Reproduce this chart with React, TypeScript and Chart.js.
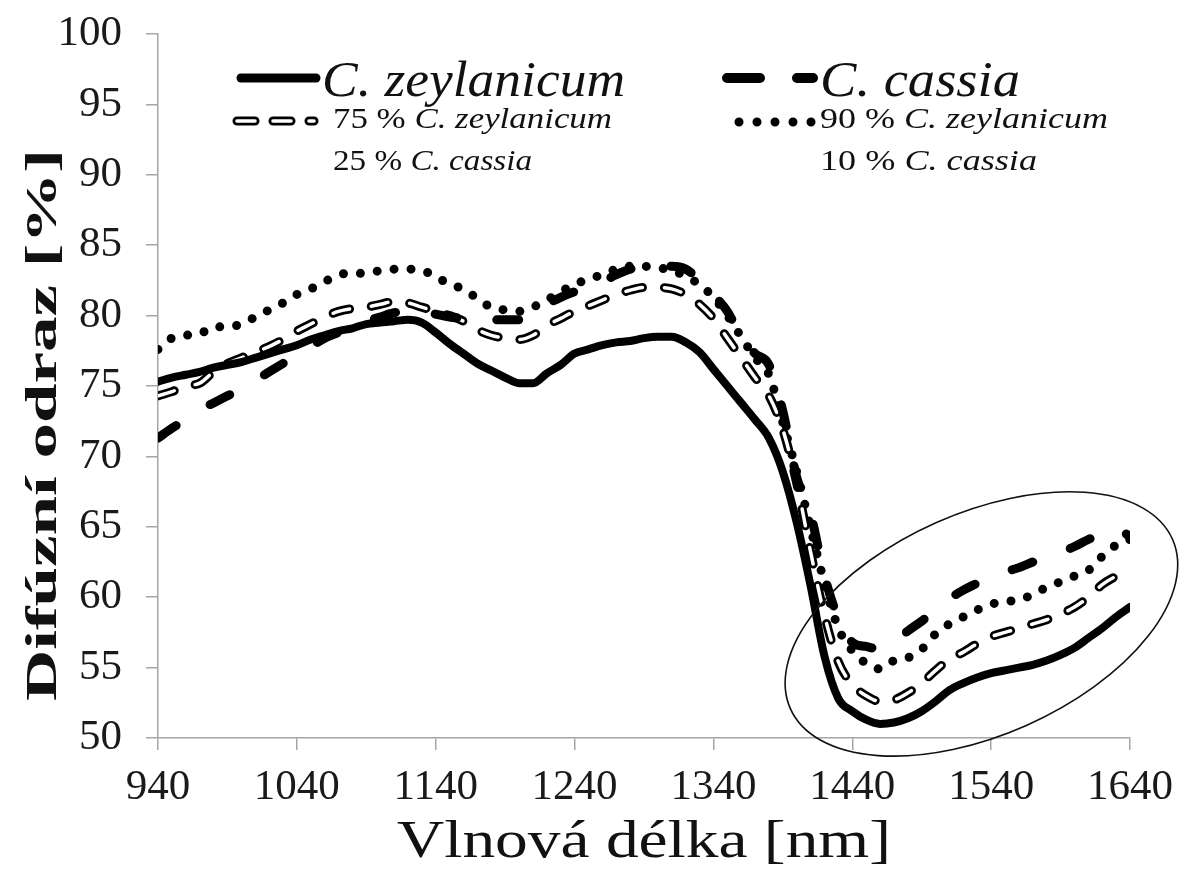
import React, { useEffect, useRef } from "react";
import { Chart, registerables } from "chart.js";

Chart.register(...registerables);

// ---------- data ----------
const wavelengths = [
  940, 950, 960, 970, 980, 990, 1000, 1010, 1020, 1030,
  1040, 1050, 1060, 1070, 1080, 1090, 1100, 1110, 1120, 1130,
  1140, 1150, 1160, 1170, 1180, 1190, 1200, 1210, 1220, 1230,
  1240, 1250, 1260, 1270, 1280, 1290, 1300, 1310, 1320, 1330,
  1340, 1350, 1360, 1370, 1380, 1390, 1400, 1410, 1420, 1430,
  1440, 1450, 1460, 1470, 1480, 1490, 1500, 1510, 1520, 1530,
  1540, 1550, 1560, 1570, 1580, 1590, 1600, 1610, 1620, 1630, 1640,
];

const zeylanicum = [
  75.3, 75.6, 75.8, 76.0, 76.3, 76.5, 76.7, 77.0, 77.3, 77.6,
  77.9, 78.3, 78.6, 78.9, 79.1, 79.4, 79.5, 79.6, 79.7, 79.5,
  78.8, 78.0, 77.3, 76.6, 76.1, 75.6, 75.2, 75.2, 75.9, 76.5,
  77.3, 77.6, 77.9, 78.1, 78.2, 78.4, 78.5, 78.5, 78.1, 77.4,
  76.2, 75.0, 73.8, 72.6, 71.3, 68.9, 65.3, 60.8, 55.8, 52.8,
  51.9, 51.3, 51.0, 51.1, 51.4, 51.9, 52.6, 53.4, 53.9, 54.3,
  54.6, 54.8, 55.0, 55.2, 55.5, 55.9, 56.4, 57.1, 57.8, 58.6, 59.3,
];

const cassia = [
  71.3, 72.0, 72.6, 73.3, 73.8, 74.3, 74.8, 75.4, 76.0, 76.6,
  77.2, 77.8, 78.4, 78.8, 79.2, 79.6, 79.9, 80.2, 80.3, 80.3,
  80.1, 79.9, 79.8, 79.7, 79.7, 79.7, 79.7, 80.1, 80.8, 81.3,
  81.7, 82.0, 82.4, 82.9, 83.3, 83.5, 83.5, 83.5, 83.3, 82.5,
  81.5, 80.3, 78.5, 77.3, 76.5, 73.2, 68.5, 65.9, 61.5, 58.5,
  56.8, 56.5, 56.3, 56.8, 57.6, 58.3, 59.1, 59.9, 60.5, 61.0,
  61.5, 61.8, 62.1, 62.5, 62.9, 63.2, 63.6, 64.1, 64.5, 64.9, 64.3,
];

const mix75 = [
  74.3, 74.6, 75.0, 75.2, 76.0, 76.6, 77.0, 77.4, 77.8, 78.3,
  78.9, 79.4, 79.9, 80.3, 80.5, 80.6, 80.8, 81.0, 80.9, 80.6,
  80.3, 80.0, 79.6, 79.0, 78.6, 78.4, 78.3, 78.6, 79.3, 79.8,
  80.3, 80.7, 81.1, 81.5, 81.8, 82.0, 82.0, 81.9, 81.5, 80.8,
  79.8, 78.4, 77.0, 75.6, 74.3, 71.9, 68.1, 63.2, 58.7, 55.4,
  53.8, 53.0, 52.6, 52.7, 53.2, 53.9, 54.8, 55.6, 56.1, 56.7,
  57.2, 57.5, 57.8, 58.1, 58.4, 58.8, 59.3, 60.0, 60.9, 61.5, 62.0,
];

const mix90 = [
  77.6, 78.4, 78.6, 78.7, 79.2, 79.2, 79.4, 79.9, 80.4, 80.9,
  81.5, 81.9, 82.4, 82.9, 83.0, 83.0, 83.2, 83.3, 83.3, 83.2,
  82.8, 82.2, 81.9, 81.2, 80.6, 80.4, 80.3, 80.6, 81.1, 81.7,
  82.2, 82.6, 82.9, 83.3, 83.5, 83.5, 83.4, 83.2, 82.8, 82.2,
  81.3, 80.0, 78.5, 77.0, 75.8, 72.4, 68.9, 64.9, 61.0, 57.8,
  56.2, 55.3, 54.9, 55.5, 55.7, 56.3, 57.4, 58.1, 58.6, 59.1,
  59.5, 59.7, 59.8, 60.2, 60.7, 61.1, 61.5, 61.9, 62.9, 63.7, 64.1,
];

const xTickValues = [940, 1040, 1140, 1240, 1340, 1440, 1540, 1640];
const yMin = 50;
const yMax = 100;
const yStep = 5;

const xTitle = "Vlnová délka [nm]";
const yTitle = "Difúzní odraz [%]";
const pureNames = ["C. zeylanicum", "C. cassia"];
const mixLine1 = [["75 % ", "C. zeylanicum"], ["90 % ", "C. zeylanicum"]];
const mixLine2 = [["25 % ", "C. cassia"], ["10 % ", "C. cassia"]];

// highlighted region (data coordinates of the ellipse centre)
const ellipseCenter = { x: 1533, y: 58.1 };

// ---------- helpers ----------
type Part = { text: string; font: string };

function drawFitted(
  ctx: CanvasRenderingContext2D,
  parts: Part[],
  x: number,
  y: number,
  width: number,
  align: "left" | "center",
  rotation = 0
) {
  ctx.save();
  ctx.textBaseline = "alphabetic";
  ctx.textAlign = "left";
  let total = 0;
  const widths = parts.map((p) => {
    ctx.font = p.font;
    const w = ctx.measureText(p.text).width;
    total += w;
    return w;
  });
  const s = width / total;
  ctx.translate(x, y);
  if (rotation) ctx.rotate(rotation);
  ctx.scale(s, 1);
  let cx = align === "center" ? -total / 2 : 0;
  parts.forEach((p, i) => {
    ctx.font = p.font;
    ctx.fillText(p.text, cx, 0);
    cx += widths[i];
  });
  ctx.restore();
}

const SERIF = "\"Liberation Serif\", \"Times New Roman\", Times, serif";
const INK = "#111111";

const overlayPlugin = {
  id: "overlay",
  afterDraw(chart: any) {
    const ctx: CanvasRenderingContext2D = chart.ctx;
    const xs = chart.scales.x;
    const ys = chart.scales.y;

    // ellipse annotation
    ctx.save();
    ctx.beginPath();
    ctx.ellipse(
      xs.getPixelForValue(ellipseCenter.x),
      ys.getPixelForValue(ellipseCenter.y),
      209,
      111,
      (-23.9 * Math.PI) / 180,
      0,
      Math.PI * 2
    );
    ctx.lineWidth = 1.6;
    ctx.strokeStyle = INK;
    ctx.stroke();
    ctx.restore();

    ctx.fillStyle = INK;

    // axis titles
    drawFitted(ctx, [{ text: xTitle, font: `52px ${SERIF}` }], 644, 857, 494, "center");
    drawFitted(
      ctx,
      [{ text: yTitle, font: `bold 44px ${SERIF}` }],
      56,
      425,
      552,
      "center",
      -Math.PI / 2
    );

    // legend samples
    ctx.save();
    ctx.strokeStyle = "#000";
    ctx.lineCap = "round";
    ctx.lineWidth = 9;
    ctx.beginPath();
    ctx.moveTo(241, 78);
    ctx.lineTo(316, 78);
    ctx.stroke();
    ctx.lineWidth = 10;
    ctx.setLineDash([33, 37]);
    ctx.beginPath();
    ctx.moveTo(727, 78);
    ctx.lineTo(813, 78);
    ctx.stroke();
    ctx.setLineDash([18, 18]);
    ctx.lineWidth = 9;
    ctx.beginPath();
    ctx.moveTo(237, 121);
    ctx.lineTo(314, 121);
    ctx.stroke();
    ctx.strokeStyle = "#fff";
    ctx.lineWidth = 3.5;
    ctx.beginPath();
    ctx.moveTo(237, 121);
    ctx.lineTo(314, 121);
    ctx.stroke();
    ctx.strokeStyle = "#000";
    ctx.lineWidth = 9;
    ctx.setLineDash([0, 18]);
    ctx.beginPath();
    ctx.moveTo(739, 122);
    ctx.lineTo(812, 122);
    ctx.stroke();
    ctx.restore();

    // legend text
    ctx.fillStyle = INK;
    drawFitted(ctx, [{ text: pureNames[0], font: `italic 50px ${SERIF}` }], 322, 96, 303, "left");
    drawFitted(ctx, [{ text: pureNames[1], font: `italic 50px ${SERIF}` }], 820, 96, 200, "left");
    const mixX = [333, 820];
    const w1 = [279, 288];
    const w2 = [199, 217];
    for (let i = 0; i < 2; i++) {
      drawFitted(
        ctx,
        [
          { text: mixLine1[i][0], font: `30px ${SERIF}` },
          { text: mixLine1[i][1], font: `italic 30px ${SERIF}` },
        ],
        mixX[i],
        128,
        w1[i],
        "left"
      );
      drawFitted(
        ctx,
        [
          { text: mixLine2[i][0], font: `30px ${SERIF}` },
          { text: mixLine2[i][1], font: `italic 30px ${SERIF}` },
        ],
        mixX[i],
        170,
        w2[i],
        "left"
      );
    }
  },
};

function toPoints(values: number[]) {
  return wavelengths.map((w, i) => ({ x: w, y: values[i] }));
}

export default function App() {
  const canvasRef = useRef<HTMLCanvasElement | null>(null);

  useEffect(() => {
    const canvas = canvasRef.current;
    if (!canvas) return;
    let chart: Chart | null = null;
    let cancelled = false;

    const build = () => {
      if (cancelled) return;
      const common = {
        pointRadius: 0,
        pointHoverRadius: 0,
        fill: false,
        cubicInterpolationMode: "monotone" as const,
        borderCapStyle: "round" as const,
        borderJoinStyle: "round" as const,
      };
      chart = new Chart(canvas, {
        type: "line",
        data: {
          datasets: [
            { ...common, label: "C. zeylanicum", data: toPoints(zeylanicum), borderColor: "#000", borderWidth: 8, order: 1 },
            { ...common, label: "C. cassia", data: toPoints(cassia), borderColor: "#000", borderWidth: 9, borderDash: [22, 40], order: 2 },
            { ...common, label: "75/25 inner", data: toPoints(mix75), borderColor: "#fff", borderWidth: 3.5, borderDash: [17, 22], order: 3 },
            { ...common, label: "75 % C. zeylanicum / 25 % C. cassia", data: toPoints(mix75), borderColor: "#000", borderWidth: 9, borderDash: [17, 22], order: 4 },
            { ...common, label: "90 % C. zeylanicum / 10 % C. cassia", data: toPoints(mix90), borderColor: "#000", borderWidth: 9, borderDash: [0, 17], order: 5 },
          ],
        },
        options: {
          animation: false,
          responsive: false,
          devicePixelRatio: 1,
          layout: { padding: { top: 34, right: 54, left: 0, bottom: 0 } },
          plugins: { legend: { display: false }, tooltip: { enabled: false }, title: { display: false } },
          events: [],
          scales: {
            x: {
              type: "linear",
              min: 940,
              max: 1640,
              afterFit: (scale: any) => {
                scale.height = 134;
                scale.paddingLeft = 0;
                scale.paddingRight = 0;
              },
              afterBuildTicks: (scale: any) => {
                scale.ticks = xTickValues.map((v) => ({ value: v }));
              },
              grid: {
                display: true,
                drawOnChartArea: false,
                drawTicks: true,
                tickLength: 12,
                color: "#a6a6a6",
                lineWidth: 1.5,
              },
              border: { display: true, color: "#a6a6a6", width: 1.5 },
              ticks: {
                color: "#1a1a1a",
                font: { family: SERIF, size: 43 },
                padding: 12,
                maxRotation: 0,
                autoSkip: false,
                callback: (v: any) => String(v),
              },
            },
            y: {
              type: "linear",
              min: yMin,
              max: yMax,
              afterFit: (scale: any) => {
                scale.width = 158;
                scale.paddingTop = 0;
                scale.paddingBottom = 0;
              },
              grid: {
                display: true,
                drawOnChartArea: false,
                drawTicks: true,
                tickLength: 12,
                color: "#a6a6a6",
                lineWidth: 1.5,
              },
              border: { display: true, color: "#a6a6a6", width: 1.5 },
              ticks: {
                stepSize: yStep,
                color: "#1a1a1a",
                font: { family: SERIF, size: 43 },
                padding: 24,
                autoSkip: false,
              },
            },
          },
        },
        plugins: [overlayPlugin],
      });
    };

    const fontsApi: any = (document as any).fonts;
    if (fontsApi && fontsApi.load) {
      Promise.all([
        fontsApi.load('43px "Liberation Serif"'),
        fontsApi.load('italic 50px "Liberation Serif"'),
        fontsApi.load('bold 44px "Liberation Serif"'),
      ])
        .catch(() => null)
        .then(build);
    } else {
      build();
    }

    return () => {
      cancelled = true;
      if (chart) chart.destroy();
    };
  }, []);

  return (
    <div
      style={{
        position: "fixed",
        left: 0,
        top: 0,
        width: 1184,
        height: 872,
        background: "#fff",
      }}
    >
      <canvas ref={canvasRef} width={1184} height={872} style={{ display: "block" }} />
    </div>
  );
}
